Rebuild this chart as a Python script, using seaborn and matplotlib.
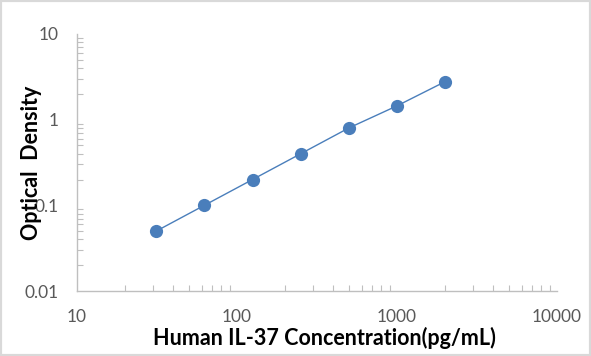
import numpy as np
import pandas as pd
import matplotlib
matplotlib.use('Agg')
import matplotlib.pyplot as plt
import seaborn as sns
from matplotlib.ticker import LogLocator, FixedLocator, NullFormatter
from matplotlib.patches import Rectangle

# standard curve
conc = [31.25, 62.5, 125, 250, 500, 1000, 2000]
od = [0.05, 0.1, 0.2, 0.4, 0.8, 1.45, 2.78]
xticks = [10, 100, 1000, 10000]
xticklabels = ['10', '100', '1000', '10000']
yticks = [0.01, 0.1, 1, 10]
yticklabels = ['0.01', '0.1', '1', '10']

df = pd.DataFrame({'conc': conc, 'od': od})

sns.set_style('white')
plt.rcParams['font.family'] = ['Lato', 'DejaVu Sans']

fig = plt.figure(figsize=(5.91, 3.56), dpi=100)
ax = fig.add_axes([77 / 591, 1 - 291 / 356, 480 / 591, 257 / 356])

blue = '#4a7ebb'
sns.lineplot(data=df, x='conc', y='od', ax=ax, color=blue, linewidth=1,
             marker='o', markersize=9.5, markeredgewidth=0, markerfacecolor=blue)

ax.set_xscale('log')
ax.set_yscale('log')
ax.set_xlim(10, 10000)
ax.set_ylim(0.01, 10)

ax.xaxis.set_major_locator(FixedLocator(xticks))
ax.set_xticklabels(xticklabels)
ax.yaxis.set_major_locator(FixedLocator(yticks))
ax.set_yticklabels(yticklabels)
ax.xaxis.set_minor_locator(LogLocator(base=10, subs=np.arange(2, 10)))
ax.yaxis.set_minor_locator(LogLocator(base=10, subs=np.arange(2, 10)))
ax.xaxis.set_minor_formatter(NullFormatter())
ax.yaxis.set_minor_formatter(NullFormatter())

for s in ['top', 'right']:
    ax.spines[s].set_visible(False)
for s in ['left', 'bottom']:
    ax.spines[s].set_color('#bfbfbf')
    ax.spines[s].set_linewidth(1)

ax.tick_params(which='both', bottom=True, left=True, direction='in',
               color='#bfbfbf', width=0.8, labelcolor='#595959', labelsize=12.5)
ax.tick_params(which='major', length=0)
ax.tick_params(which='minor', length=4)
ax.tick_params(axis='x', pad=13)
ax.tick_params(axis='y', pad=13)

ax.set_xlabel('Human IL-37 Concentration(pg/mL)', fontsize=15.5, fontweight='bold',
              color='black', labelpad=0)
ax.set_ylabel('Optical  Density', fontsize=15.5, fontweight='bold', color='black',
              labelpad=2)
ax.xaxis.set_label_coords(0.515, -0.14)
ax.yaxis.set_label_coords(-0.073, 0.5)

fig.patches.append(Rectangle((0, 0), 1, 1, transform=fig.transFigure, fill=False,
                             edgecolor='#d9d9d9', linewidth=3))

fig.savefig('out.png', dpi=100)
